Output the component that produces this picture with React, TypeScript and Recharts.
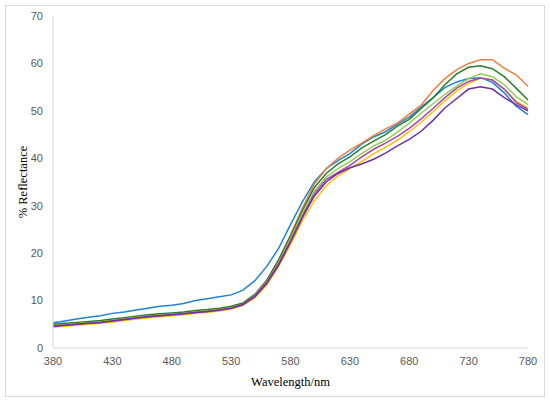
import React from 'react';
import { LineChart, Line, XAxis, YAxis } from 'recharts';

const wavelengths = [380, 390, 400, 410, 420, 430, 440, 450, 460, 470, 480, 490, 500, 510, 520, 530, 540, 550, 560, 570, 580, 590, 600, 610, 620, 630, 640, 650, 660, 670, 680, 690, 700, 710, 720, 730, 740, 750, 760, 770, 780];

const blue = [5.3, 5.7, 6.1, 6.5, 6.8, 7.3, 7.6, 8.0, 8.4, 8.8, 9.0, 9.4, 10.0, 10.4, 10.8, 11.2, 12.2, 14.2, 17.2, 21.0, 26.0, 30.8, 35.0, 37.8, 39.5, 41.0, 43.0, 44.5, 45.6, 47.2, 48.7, 50.8, 52.8, 54.9, 56.1, 56.8, 57.0, 56.0, 53.8, 51.0, 49.2];
const orange = [4.8, 5.0, 5.2, 5.4, 5.6, 5.9, 6.2, 6.5, 6.8, 7.0, 7.2, 7.4, 7.7, 7.9, 8.2, 8.6, 9.4, 11.2, 14.2, 18.6, 23.8, 29.5, 34.5, 37.8, 40.0, 41.7, 43.2, 44.8, 46.2, 47.4, 49.3, 51.2, 54.3, 56.8, 58.7, 60.0, 60.8, 60.8, 59.0, 57.6, 55.2];
const darkGreen = [5.0, 5.2, 5.4, 5.6, 5.8, 6.1, 6.4, 6.7, 7.0, 7.2, 7.4, 7.6, 7.9, 8.1, 8.4, 8.8, 9.5, 11.3, 14.3, 18.6, 23.6, 29.0, 33.8, 36.8, 38.8, 40.3, 42.2, 43.6, 45.0, 46.8, 48.2, 50.5, 52.7, 55.5, 57.8, 59.2, 59.5, 58.9, 57.2, 54.8, 52.3];
const lightGreen = [4.7, 4.9, 5.1, 5.3, 5.5, 5.8, 6.1, 6.4, 6.7, 6.9, 7.1, 7.3, 7.6, 7.8, 8.1, 8.5, 9.2, 11.0, 13.9, 18.0, 23.0, 28.3, 33.0, 36.0, 37.8, 39.3, 41.0, 42.6, 43.8, 45.5, 47.4, 49.5, 51.5, 53.5, 55.2, 56.8, 57.8, 57.2, 55.5, 53.0, 51.3];
const yellow = [4.4, 4.6, 4.8, 5.0, 5.2, 5.5, 5.8, 6.1, 6.4, 6.6, 6.8, 7.0, 7.3, 7.5, 7.8, 8.2, 9.0, 10.6, 13.3, 17.2, 21.8, 26.8, 31.0, 34.2, 36.3, 37.8, 39.3, 41.0, 42.3, 43.8, 45.6, 47.6, 49.8, 52.1, 54.2, 55.8, 56.9, 56.5, 54.5, 52.0, 50.6];
const magenta = [4.6, 4.8, 5.0, 5.2, 5.4, 5.7, 6.0, 6.3, 6.6, 6.8, 7.0, 7.2, 7.5, 7.7, 8.0, 8.4, 9.2, 11.0, 13.8, 17.8, 22.6, 27.8, 32.5, 35.5, 37.0, 38.5, 40.3, 41.9, 43.2, 44.6, 46.3, 48.3, 50.5, 52.8, 54.8, 56.2, 56.9, 56.5, 54.6, 51.8, 50.3];
const purple = [4.6, 4.8, 5.0, 5.2, 5.4, 5.7, 6.0, 6.3, 6.6, 6.8, 7.0, 7.2, 7.5, 7.7, 8.0, 8.4, 9.1, 10.8, 13.6, 17.5, 22.3, 27.5, 32.0, 35.0, 36.8, 38.0, 38.8, 39.8, 41.1, 42.6, 44.0, 45.7, 48.0, 50.6, 52.6, 54.6, 55.1, 54.6, 52.8, 51.3, 50.0];

const xTicks = [380, 430, 480, 530, 580, 630, 680, 730, 780];
const yTicks = [0, 10, 20, 30, 40, 50, 60, 70];

const seriesList = [
  { key: 's1', values: blue, color: '#1F84D6' },
  { key: 's2', values: orange, color: '#F47C3C' },
  { key: 's3', values: darkGreen, color: '#2C7D2E' },
  { key: 's4', values: lightGreen, color: '#92D050' },
  { key: 's5', values: yellow, color: '#FFC000' },
  { key: 's6', values: magenta, color: '#A745B5' },
  { key: 's7', values: purple, color: '#7030A0' },
];

const data = wavelengths.map((w, i) => {
  const row: Record<string, number> = { w };
  seriesList.forEach((s) => {
    row[s.key] = s.values[i];
  });
  return row;
});

const tickStyle = { fontFamily: '"Liberation Sans", Arial, sans-serif', fontSize: 11, fill: '#595959' };
const titleStyle = { fontFamily: '"Liberation Serif", "Times New Roman", serif', fontSize: 12.5, fill: '#000' };

export default function App() {
  return (
    <div style={{ position: 'absolute', left: 0, top: 0, width: 550, height: 401, background: '#fff' }}>
      <div
        style={{
          position: 'absolute',
          left: 5,
          top: 5,
          width: 538,
          height: 390,
          border: '1px solid #d9d9d9',
        }}
      />
      <div style={{ position: 'absolute', left: 0, top: 0 }}>
        <LineChart width={550} height={401} data={data} margin={{ top: 16, right: 22, left: 0, bottom: 0 }}>
          <XAxis
            dataKey="w"
            type="number"
            domain={[380, 780]}
            ticks={xTicks}
            height={53}
            tickLine={false}
            tickSize={6}
            tickMargin={3}
            axisLine={{ stroke: '#d9d9d9', strokeWidth: 1 }}
            tick={tickStyle}
            label={{ value: 'Wavelength/nm', position: 'insideBottom', offset: 15, style: titleStyle }}
          />
          <YAxis
            type="number"
            domain={[0, 70]}
            ticks={yTicks}
            width={53}
            tickLine={false}
            tickSize={6}
            tickMargin={4}
            axisLine={{ stroke: '#d9d9d9', strokeWidth: 1 }}
            tick={tickStyle}
            label={{ value: '% Reflectance', angle: -90, position: 'insideLeft', offset: 23, style: { ...titleStyle, textAnchor: 'middle' } }}
          />
          {seriesList.map((s) => (
            <Line
              key={s.key}
              dataKey={s.key}
              stroke={s.color}
              strokeWidth={1.5}
              dot={false}
              type="linear"
              isAnimationActive={false}
            />
          ))}
        </LineChart>
      </div>
    </div>
  );
}
